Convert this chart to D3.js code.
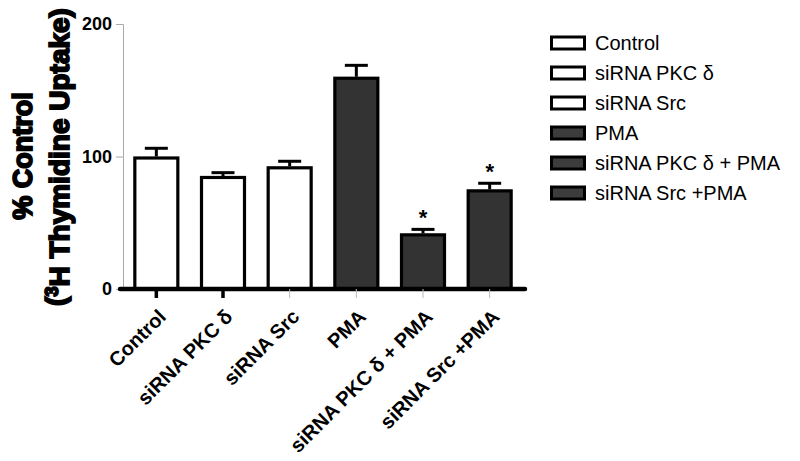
<!DOCTYPE html>
<html>
<head>
<meta charset="utf-8">
<script src="https://cdn.jsdelivr.net/npm/d3@7"></script>
<style>
  body { margin: 0; background: #fff; }
  text { font-family: "Liberation Sans", Arial, sans-serif; }
</style>
</head>
<body>
<div id="chart"></div>
<script>
// values
var categories = ["Control", "siRNA PKC δ", "siRNA Src", "PMA", "siRNA PKC δ + PMA", "siRNA Src +PMA"];
var means = [100, 85.3, 92.6, 160.2, 42, 75.2];
var errors = [6.2, 2.5, 3.8, 8.6, 3, 4.6];
var treated = [false, false, false, true, true, true];   // PMA groups drawn dark
var starred = [false, false, false, false, true, true];
var yTicks = [0, 100, 200];

var width = 800, height = 461;
var margin = {top: 24, left: 123, right: 277, zero: 289};

var svg = d3.select("#chart").append("svg")
    .attr("width", width)
    .attr("height", height);

var x = d3.scaleBand()
    .domain(categories)
    .range([margin.left, width - margin.right])
    .paddingInner(0.31)
    .paddingOuter(0.155);

var y = d3.scaleLinear()
    .domain([0, 200])
    .range([margin.zero, margin.top]);

var darkFill = "#333333";

// y axis: thin grey line and ticks
var yAxis = svg.append("g")
    .attr("transform", "translate(" + margin.left + ",0)")
    .call(d3.axisLeft(y).tickValues(yTicks).tickSize(7).tickPadding(4));
yAxis.select(".domain").attr("stroke", "#aaa");
yAxis.selectAll(".tick line").attr("stroke", "#aaa");
yAxis.selectAll(".tick text")
    .attr("fill", "#000")
    .style("font-size", "18px")
    .style("font-weight", "bold")
    .style("font-family", "'Liberation Sans', Arial, sans-serif");

// bars
var rows = categories.map(function(c, i) {
    return {cat: c, mean: means[i], err: errors[i], dark: treated[i], star: starred[i]};
});

svg.selectAll("rect.bar")
    .data(rows)
    .enter().append("rect")
    .attr("class", "bar")
    .attr("x", function(d) { return x(d.cat) + 1.5; })
    .attr("width", x.bandwidth() - 3)
    .attr("y", function(d) { return y(d.mean) + 1.5; })
    .attr("height", function(d) { return y(0) - y(d.mean) - 1.5; })
    .attr("fill", function(d) { return d.dark ? darkFill : "#fff"; })
    .attr("stroke", "#000")
    .attr("stroke-width", 3.2);

// error bars (upper only)
var eb = svg.selectAll("g.err")
    .data(rows)
    .enter().append("g")
    .attr("class", "err");
eb.append("line")
    .attr("x1", function(d) { return x(d.cat) + x.bandwidth() / 2; })
    .attr("x2", function(d) { return x(d.cat) + x.bandwidth() / 2; })
    .attr("y1", function(d) { return y(d.mean); })
    .attr("y2", function(d) { return y(d.mean + d.err); })
    .attr("stroke", "#000").attr("stroke-width", 3);
eb.append("line")
    .attr("x1", function(d) { return x(d.cat) + x.bandwidth() / 4; })
    .attr("x2", function(d) { return x(d.cat) + x.bandwidth() * 3 / 4; })
    .attr("y1", function(d) { return y(d.mean + d.err); })
    .attr("y2", function(d) { return y(d.mean + d.err); })
    .attr("stroke", "#000").attr("stroke-width", 3);

// significance stars
svg.selectAll("text.star")
    .data(rows.filter(function(d) { return d.star; }))
    .enter().append("text")
    .attr("class", "star")
    .attr("x", function(d) { return x(d.cat) + x.bandwidth() / 2; })
    .attr("y", function(d) { return y(d.mean + d.err) - 4; })
    .attr("text-anchor", "middle")
    .style("font-size", "22px")
    .style("font-weight", "bold")
    .text("*");

// x axis: thick black baseline
svg.append("line")
    .attr("x1", 120).attr("x2", 525)
    .attr("y1", y(0)).attr("y2", y(0))
    .attr("stroke", "#000").attr("stroke-width", 4.5)
    .attr("stroke-linecap", "round");

// x ticks - first two came out thick black in the original, rest thin grey
svg.selectAll("line.xtick")
    .data(categories)
    .enter().append("line")
    .attr("class", "xtick")
    .attr("x1", function(d) { return x(d) + x.bandwidth() / 2; })
    .attr("x2", function(d) { return x(d) + x.bandwidth() / 2; })
    .attr("y1", y(0))
    .attr("y2", y(0) + 9)
    .attr("stroke", function(d, i) { return i < 2 ? "#000" : "#bbb"; })
    .attr("stroke-width", function(d, i) { return i < 2 ? 3.5 : 1; });

svg.selectAll("text.xlab")
    .data(categories)
    .enter().append("text")
    .attr("class", "xlab")
    .attr("transform", function(d) {
        return "translate(" + (x(d) + x.bandwidth() / 2 + 6) + "," + (y(0) + 24) + ") rotate(-45)";
    })
    .attr("text-anchor", "end")
    .attr("dy", "0.35em")
    .style("font-size", "20px")
    .style("font-weight", "bold")
    .text(function(d) { return d; });

// y axis title, two heavy lines
svg.append("text")
    .attr("transform", "translate(32,156) rotate(-90)")
    .attr("text-anchor", "middle")
    .style("font-size", "27px")
    .style("font-weight", "bold")
    .attr("stroke", "#000").attr("stroke-width", 1.8)
    .text("% Control");

var t2 = svg.append("text")
    .attr("transform", "translate(65,157) rotate(-90)")
    .attr("text-anchor", "middle")
    .style("font-size", "28px")
    .style("font-weight", "bold")
    .attr("stroke", "#000").attr("stroke-width", 1.8);
t2.append("tspan").text("(");
t2.append("tspan").attr("dy", "-0.4em").style("font-size", "18px").text("3");
t2.append("tspan").attr("dy", "0.4em").text("H Thymidine Uptake)");

// legend
var legend = svg.selectAll("g.leg")
    .data(rows)
    .enter().append("g")
    .attr("class", "leg")
    .attr("transform", function(d, i) { return "translate(550," + (43 + i * 30) + ")"; });
legend.append("rect")
    .attr("x", 1.5).attr("y", -6)
    .attr("width", 33).attr("height", 12)
    .attr("fill", function(d) { return d.dark ? "#3c3c3c" : "#fff"; })
    .attr("stroke", "#000").attr("stroke-width", 3);
legend.append("text")
    .attr("x", 45)
    .attr("dy", "0.36em")
    .style("font-size", "20px")
    .text(function(d) { return d.cat; });
</script>
</body>
</html>
